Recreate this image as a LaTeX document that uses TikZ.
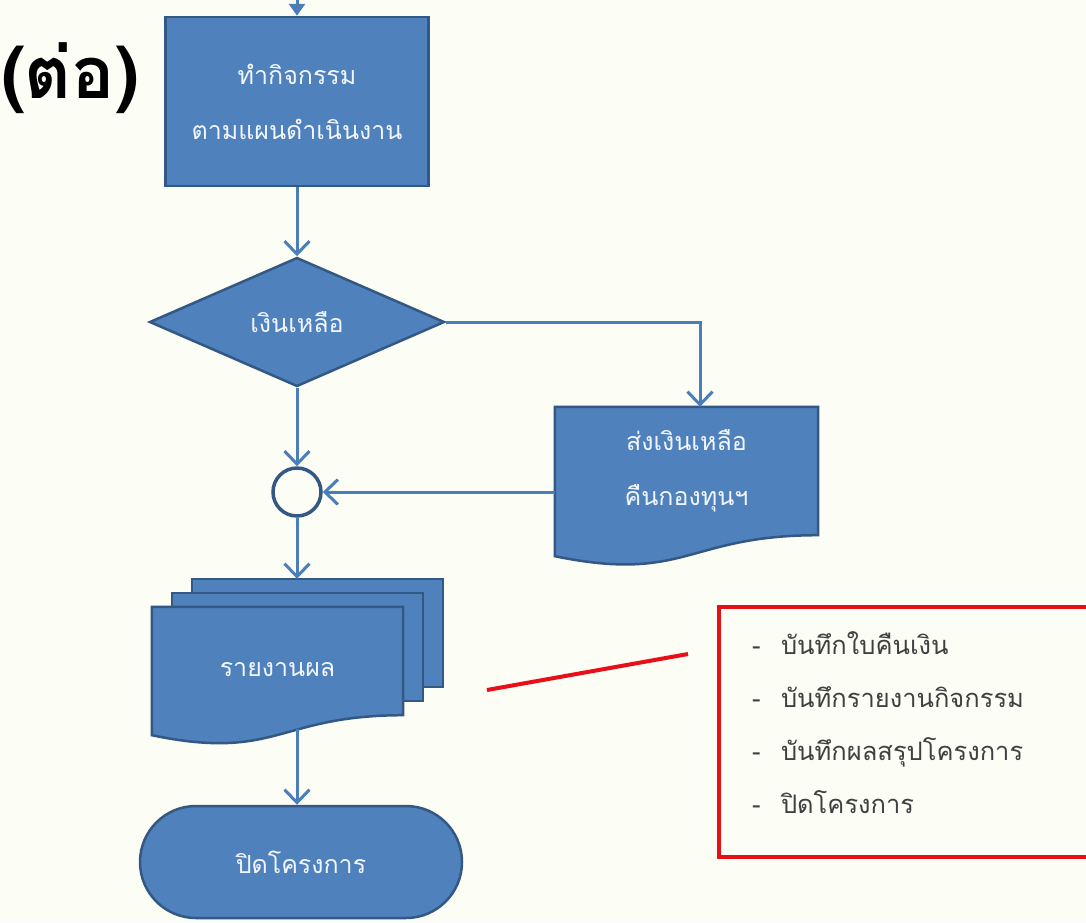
\documentclass[tikz,border=0pt]{standalone}
\usepackage{fontspec}
\setmainfont{Loma}[Script=Thai]
\usepackage{tikz}
\usetikzlibrary{shapes.geometric,arrows.meta}
\pgfdeclarelayer{background}
\pgfsetlayers{background,main}

\definecolor{bgcream}{RGB}{252,253,245}
\definecolor{boxblue}{RGB}{79,129,189}
\definecolor{boxedge}{RGB}{52,88,132}
\definecolor{linkblue}{RGB}{74,126,187}
\definecolor{boxtext}{RGB}{242,246,252}
\definecolor{notered}{RGB}{232,16,24}
\definecolor{notetext}{RGB}{64,64,64}

\begin{document}
\begin{tikzpicture}[x=1pt,y=-1pt,
	shapetext/.style={text=boxtext, align=center, font=\fontsize{25}{55}\selectfont},
	procbox/.style={shapetext, rectangle, fill=boxblue, draw=boxedge, line width=2.5pt, minimum width=263pt, minimum height=169pt},
	decision/.style={shapetext, diamond, fill=boxblue, draw=boxedge, line width=2.5pt, minimum width=295pt, minimum height=129pt, inner sep=0pt},
	docbody/.style={shapetext, rectangle, inner sep=0pt},
	docfill/.style={fill=boxblue, draw=boxedge, line width=2.5pt},
	junction/.style={circle, draw=boxedge, line width=3.5pt, fill=bgcream, minimum size=48pt, inner sep=0pt},
	terminal/.style={shapetext, rectangle, rounded corners=56pt, fill=boxblue, draw=boxedge, line width=2.5pt, minimum width=322pt, minimum height=112pt},
	flow/.style={draw=linkblue, line width=3pt, -{Straight Barb[length=13pt,width=25pt]}},
	notebox/.style={draw=notered, line width=4pt, minimum width=381pt, minimum height=250pt},
	notelist/.style={text width=315pt, align=left, text=notetext, font=\fontsize{25.5}{53}\selectfont}
]
	%\draw[help lines] (0,0) grid[step=50] (1086,922);
	\useasboundingbox (0,0) rectangle (1086,922);

	\node[font=\bfseries\fontsize{72}{76}\selectfont] (cont) at (70,78) {(ต่อ)};

	\node[procbox] (act) at (297,101.5) {ทำกิจกรรม\\ตามแผนดำเนินงาน};
	\node[decision] (left) at (297,322) {เงินเหลือ};
	\node[docbody, minimum width=263pt, minimum height=128pt] (refund) at (686.5,471) {ส่งเงินเหลือ\\คืนกองทุนฯ};
	\node[junction] (conn) at (297,492) {};
	\node[docbody, minimum width=251pt, minimum height=108pt, text height=31pt, text depth=0pt] (report) at (277.5,661) {รายงานผล};
	\node[terminal] (close) at (301,862) {ปิดโครงการ};
	\node[notebox] (notes) at (909.5,732) {};
	\node[notelist] (notelist) at ([yshift=9pt]notes.center) {\makebox[29pt][l]{-}บันทึกใบคืนเงิน\\
		\makebox[29pt][l]{-}บันทึกรายงานกิจกรรม\\
		\makebox[29pt][l]{-}บันทึกผลสรุปโครงการ\\
		\makebox[29pt][l]{-}ปิดโครงการ};

	% document shapes under the texts
	\begin{pgfonlayer}{background}
		\fill[bgcream] (0,0) rectangle (1086,922);
		\filldraw[docfill] (refund.north west) -- (refund.north east) -- (refund.south east)
			.. controls (refund.south) and ([yshift=-48pt]refund.south) .. ([yshift=-21pt]refund.south west) -- cycle;
		\filldraw[docfill] ([xshift=40pt,yshift=28pt]report.north west) rectangle ([xshift=40pt,yshift=28pt]report.south east);
		\filldraw[docfill] ([xshift=20pt,yshift=14pt]report.north west) rectangle ([xshift=20pt,yshift=14pt]report.south east);
		\filldraw[docfill] (report.north west) -- (report.north east) -- (report.south east)
			.. controls (report.south) and ([yshift=-46pt]report.south) .. ([yshift=-20pt]report.south west) -- cycle;
	\end{pgfonlayer}

	\coordinate (prev) at (297,-20);
	\coordinate (reporttop) at ([yshift=28pt]report.north -| conn);
	\coordinate (reportfoot) at ([yshift=-14pt]report.south -| conn);
	\coordinate (calloutA) at (487,690);
	\coordinate (calloutB) at (688,654);

	\draw[draw=linkblue, line width=3pt, -{Triangle[length=12pt,width=16pt]}] (prev) -- (act);
	\draw[flow] (act) -- (left);
	\draw[flow] (left.east) -| ([xshift=13.5pt]refund.north);
	\draw[flow] (left) -- (conn);
	\draw[flow] (refund.west |- conn) -- (conn);
	\draw[flow] (conn) -- (reporttop);
	\draw[flow] (reportfoot) -- (reportfoot |- close.north);
	\draw[notered, line width=4pt] (calloutA) -- (calloutB);
\end{tikzpicture}
\end{document}
